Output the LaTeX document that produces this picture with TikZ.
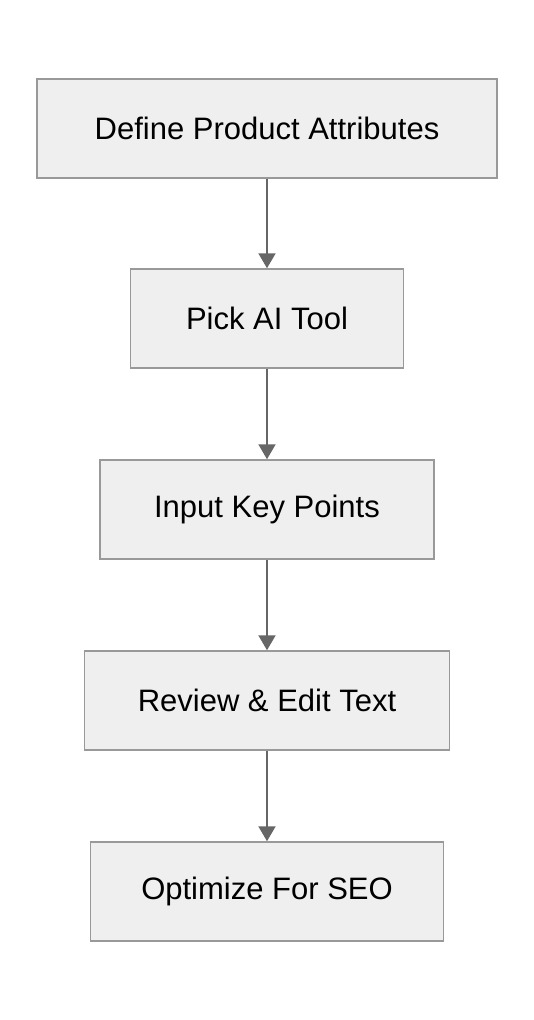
\documentclass[tikz,border=0pt]{standalone}
\usepackage{fontspec}
\setmainfont{Liberation Sans}
\usetikzlibrary{arrows.meta}
\definecolor{boxfill}{HTML}{EFEFEF}
\definecolor{boxline}{HTML}{999999}
\definecolor{arrowc}{HTML}{666666}
\tikzset{
  stepbox/.style={draw=boxline, fill=boxfill, line width=1.5pt, minimum height=99pt, inner sep=0pt, font=\fontsize{31}{36}\selectfont, text=black},
  flow/.style={draw=arrowc, fill=arrowc, line width=2pt, -{Triangle[length=15pt,width=17pt]}}
}
\begin{document}
\begin{tikzpicture}[x=1pt,y=-1pt]
\useasboundingbox (0,0) rectangle (534,1020);
\node[stepbox, minimum width=460pt] (a) at (267,128.5) {Define Product Attributes};
\node[stepbox, minimum width=273pt] (b) at (267,318.5) {Pick AI Tool};
\node[stepbox, minimum width=334pt] (c) at (267,509.5) {Input Key Points};
\node[stepbox, minimum width=365pt] (d) at (267,700.5) {Review \& Edit Text};
\node[stepbox, minimum width=353pt] (e) at (267,891.5) {Optimize For SEO};
\draw[flow] (a) -- (b);
\draw[flow] (b) -- (c);
\draw[flow] (c) -- (d);
\draw[flow] (d) -- (e);
\end{tikzpicture}
\end{document}
